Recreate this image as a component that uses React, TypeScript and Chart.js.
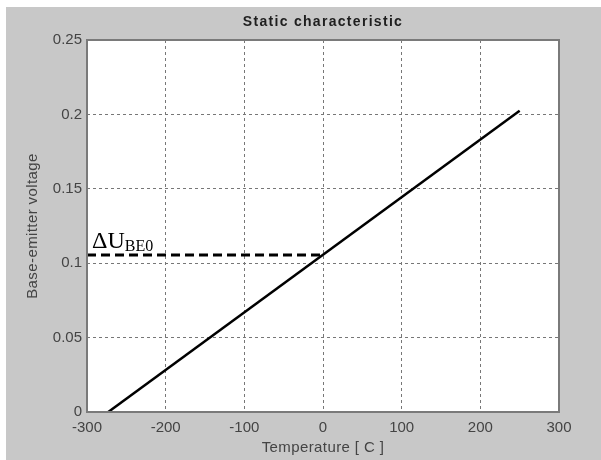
import React, { useEffect, useRef } from "react";
import { Chart, registerables } from "chart.js";

Chart.register(...registerables);

const temperature = [-273, 250];
const voltage = [0, 0.2024];
const refLineX = [-300, 0];
const refLineY = [0.1055, 0.1055];
const xTicks = [-300, -200, -100, 0, 100, 200, 300];
const yTicks = [0, 0.05, 0.1, 0.15, 0.2, 0.25];
const titleText = "Static characteristic";
const xTitle = "Temperature [ C ]";
const yTitle = "Base-emitter voltage";
const annMain = "\u0394U";
const annSub = "BE0";

const decorPlugin = {
  id: "decor",
  beforeDraw(chart: any) {
    const { ctx, chartArea: a } = chart;
    ctx.save();
    ctx.fillStyle = "#ffffff";
    ctx.fillRect(a.left, a.top, a.right - a.left, a.bottom - a.top);
    ctx.restore();
  },
  afterDraw(chart: any) {
    const { ctx, chartArea: a, scales } = chart;
    ctx.save();
    ctx.strokeStyle = "#7a7a7a";
    ctx.lineWidth = 2;
    ctx.setLineDash([]);
    ctx.strokeRect(a.left, a.top, a.right - a.left, a.bottom - a.top);
    ctx.fillStyle = "#1e1e1e";
    ctx.font = "bold 14px 'Liberation Sans', Arial, sans-serif";
    (ctx as any).letterSpacing = "1.3px";
    ctx.textAlign = "center";
    ctx.textBaseline = "middle";
    ctx.fillText(titleText, (a.left + a.right) / 2, 15);
    (ctx as any).letterSpacing = "0.4px";
    ctx.fillStyle = "#444";
    ctx.font = "15px 'Liberation Sans', Arial, sans-serif";
    ctx.fillText(xTitle, (a.left + a.right) / 2, 441);
    ctx.save();
    ctx.translate(27, (a.top + a.bottom) / 2);
    ctx.rotate(-Math.PI / 2);
    ctx.fillText(yTitle, 0, 0);
    ctx.restore();
    (ctx as any).letterSpacing = "0px";
    const xs = scales.x;
    const ys = scales.y;
    const px = xs.getPixelForValue(refLineX[0]) + 5;
    const py = ys.getPixelForValue(refLineY[0]) - 7;
    ctx.fillStyle = "#000";
    ctx.textAlign = "left";
    ctx.textBaseline = "alphabetic";
    ctx.font = "24px 'Liberation Serif', 'Times New Roman', serif";
    ctx.fillText(annMain, px, py);
    const w = ctx.measureText(annMain).width;
    ctx.font = "16px 'Liberation Serif', 'Times New Roman', serif";
    ctx.fillText(annSub, px + w, py + 3);
    ctx.restore();
  },
};

export default function App() {
  const ref = useRef<HTMLCanvasElement>(null);
  useEffect(() => {
    document.body.style.margin = "0";
    const chart = new Chart(ref.current as HTMLCanvasElement, {
      type: "scatter",
      data: {
        datasets: [
          {
            data: temperature.map((t, i) => ({ x: t, y: voltage[i] })),
            showLine: true,
            borderColor: "#000",
            borderWidth: 2.5,
            pointRadius: 0,
          },
          {
            data: refLineX.map((t, i) => ({ x: t, y: refLineY[i] })),
            showLine: true,
            borderColor: "#000",
            borderWidth: 3,
            borderDash: [9, 5],
            pointRadius: 0,
          },
        ],
      },
      options: {
        animation: false,
        responsive: false,
        layout: { padding: { top: 33, right: 42, left: 0, bottom: 0 } },
        plugins: { legend: { display: false }, tooltip: { enabled: false }, title: { display: false } },
        scales: {
          x: {
            type: "linear",
            min: -300,
            max: 300,
            afterBuildTicks: (s: any) => {
              s.ticks = xTicks.map((v) => ({ value: v }));
            },
            afterFit: (s: any) => {
              s.height = 48;
            },
            grid: { color: "#777", lineWidth: 1, drawTicks: false },
            border: { display: false, dash: [3, 3] },
            ticks: {
              color: "#444",
              padding: 7,
              maxRotation: 0,
              font: { family: "'Liberation Sans', Arial, sans-serif", size: 15 },
              callback: (v: any) => String(v),
            },
          },
          y: {
            type: "linear",
            min: 0,
            max: 0.25,
            afterBuildTicks: (s: any) => {
              s.ticks = yTicks.map((v) => ({ value: v }));
            },
            afterFit: (s: any) => {
              s.width = 81;
            },
            grid: { color: "#777", lineWidth: 1, drawTicks: false },
            border: { display: false, dash: [3, 3] },
            ticks: {
              color: "#444",
              padding: 5,
              font: { family: "'Liberation Sans', Arial, sans-serif", size: 15 },
              callback: (v: any) => String(Number(Number(v).toFixed(2))),
            },
          },
        },
      },
      plugins: [decorPlugin],
    });
    return () => chart.destroy();
  }, []);
  return (
    <div style={{ position: "absolute", left: 0, top: 0, width: 601, height: 460, background: "#fff", overflow: "hidden" }}>
      <div style={{ position: "absolute", left: 6, top: 7, width: 595, height: 453, background: "#c8c8c8" }}>
        <canvas ref={ref} width={595} height={453} style={{ display: "block", width: 595, height: 453 }} />
      </div>
    </div>
  );
}
